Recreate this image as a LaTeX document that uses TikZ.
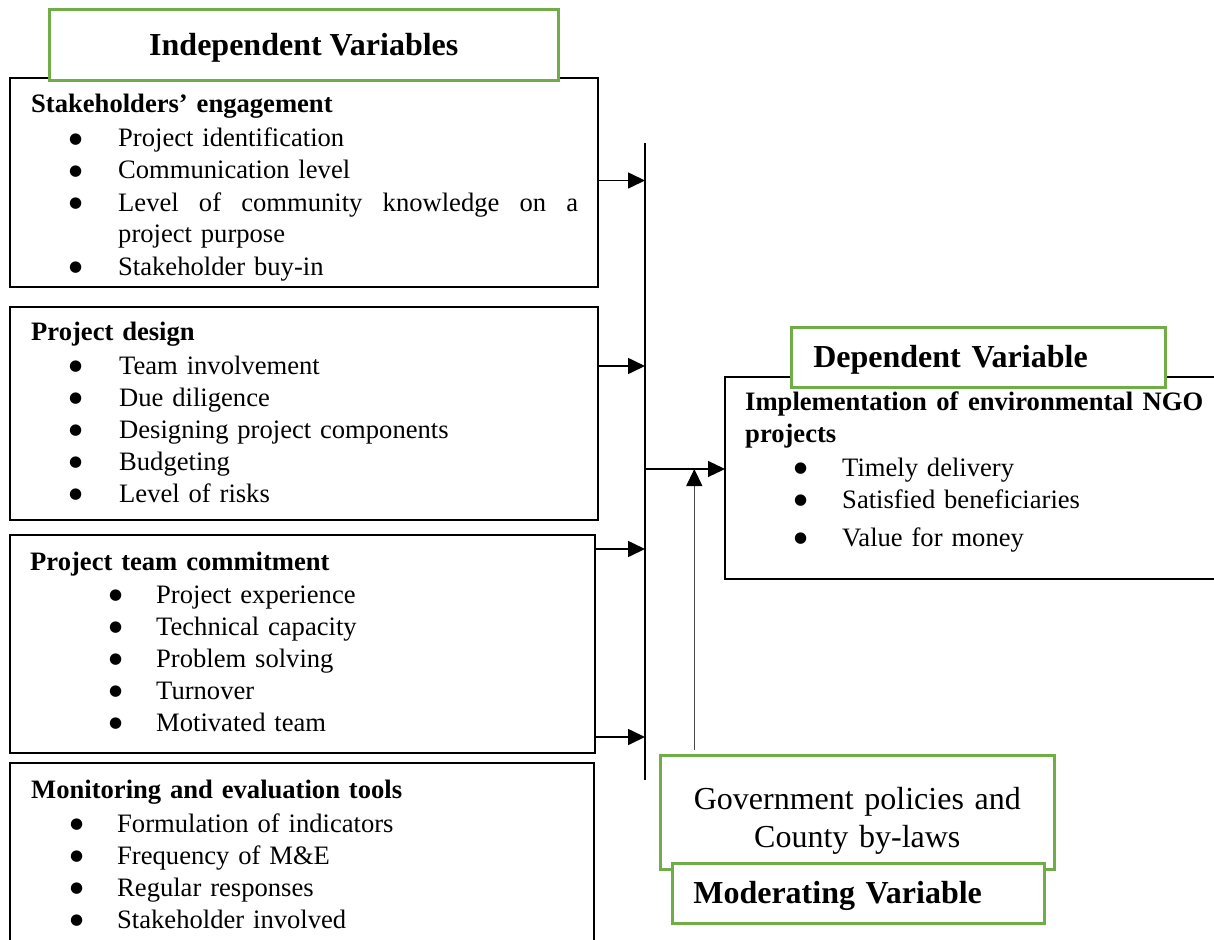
\documentclass[tikz,border=0pt]{standalone}
\usepackage{fontspec}
\setmainfont{Liberation Serif}
\newfontfamily\dotfont{DejaVu Sans}
\usetikzlibrary{arrows.meta, positioning}
\definecolor{boxgreen}{RGB}{112,173,71}
\newlength\bulin
\newlength\bulgap
\newcommand{\bigdot}{\raisebox{3.5pt}{\dotfont\fontsize{15}{15}\selectfont ●}}
\newcommand{\itm}[1]{\hspace*{\bulin}\makebox[\bulgap][l]{\bigdot}#1}

\begin{document}
\begin{tikzpicture}[
    x = 1pt, y = -1pt,
    > = {Triangle[length=17pt, width=16pt]},
    every node/.style = {font=\fontsize{26.6}{32}\selectfont},
    varbox/.style = {draw, line width=1.6pt, anchor=north west, inner sep=0pt, outer sep=0pt},
    vartext/.style = {anchor=base west, inner sep=0pt, text width=560pt, align=left},
    head/.style = {draw=boxgreen, line width=2.6pt, fill=white, inner sep=0pt, anchor=north west,
                   font=\fontsize{32}{38}\selectfont\bfseries, text height=21pt, text depth=0pt},
    link/.style = {->, line width=1.6pt}
]
\useasboundingbox (0,0) rectangle (1214,939);

% Boxes
\node[varbox, minimum width=588pt, minimum height=209pt] (stake)   at (10,78)  {};
\node[varbox, minimum width=588pt, minimum height=213pt] (design)  at (10,307) {};
\node[varbox, minimum width=585pt, minimum height=218pt] (team)    at (10,535) {};
\node[varbox, minimum width=584pt, minimum height=200pt] (monitor) at (10,763) {};
\node[varbox, minimum width=500pt, minimum height=202pt] (impl)    at (725,377) {};

% Box texts
\node[vartext] (stakeTxt) at (31,113) {\setlength\bulin{38pt}\setlength\bulgap{49pt}%
    \textbf{Stakeholders' engagement}\\[2pt]
    \itm{Project identification}\\
    \itm{Communication level}\\
    \itm{\makebox[460pt][l]{Level\hfill of\hfill community\hfill knowledge\hfill on\hfill a}}\\
    \hspace*{\dimexpr\bulin+\bulgap\relax}project purpose\\
    \itm{Stakeholder buy-in}};
\node[vartext] (designTxt) at (31,340) {\setlength\bulin{38pt}\setlength\bulgap{50pt}%
    \textbf{Project design}\\[2pt]
    \itm{Team involvement}\\
    \itm{Due diligence}\\
    \itm{Designing project components}\\
    \itm{Budgeting}\\
    \itm{Level of risks}};
\node[vartext] (teamTxt) at (30,570) {\setlength\bulin{79pt}\setlength\bulgap{47pt}%
    \textbf{Project team commitment}\\[1pt]
    \itm{Project experience}\\
    \itm{Technical capacity}\\
    \itm{Problem solving}\\
    \itm{Turnover}\\
    \itm{Motivated team}};
\node[vartext] (monitorTxt) at (31,798) {\setlength\bulin{39pt}\setlength\bulgap{47pt}%
    \textbf{Monitoring and evaluation tools}\\[2pt]
    \itm{Formulation of indicators}\\
    \itm{Frequency of M\&E}\\
    \itm{Regular responses}\\
    \itm{Stakeholder involved}};
\node[vartext, text width=460pt] (implTxt) at (745,410) {\setlength\bulin{49pt}\setlength\bulgap{48pt}%
    \makebox[458pt][l]{\bfseries Implementation\hfill of\hfill environmental\hfill NGO}\\
    \textbf{projects}\\[2pt]
    \itm{Timely delivery}\\
    \itm{Satisfied beneficiaries}\\[6pt]
    \itm{Value for money}};

% Headings
\node[head, minimum width=509pt, minimum height=71pt] (indep) at (48,8) {Independent Variables};
\node[head, minimum width=374pt, minimum height=60pt, text width=330pt, align=left] (dep) at (790,326) {Dependent Variable};
\node[head, minimum width=394pt, minimum height=114pt, text width=360pt, align=center,
      font=\fontsize{32}{38}\selectfont, text depth=27pt] (gov) at (659,754) {Government policies and\\County by-laws};
\node[head, minimum width=372pt, minimum height=60pt, text width=330pt, align=left] (moder) at (671,862) {Moderating Variable};

% Collecting bar
\coordinate (barTop) at (645,143);
\coordinate (barBot) at (645,780);
\draw[line width=1.8pt] (barTop) -- (barBot);

% Arrows into the bar
\coordinate (in1) at ([yshift=2pt]stake.east);
\coordinate (in2) at ([yshift=47.5pt]design.east);
\coordinate (in3) at ([yshift=95pt]team.east);
\coordinate (in4) at ([yshift=-93pt]team.east);
\draw[link] (in1) -- (in1 -| barTop);
\draw[link] (in2) -- (in2 -| barTop);
\draw[link] (in3) -- (in3 -| barTop);
\draw[link] (in4) -- (in4 -| barTop);

% Bar to dependent variable
\coordinate (out) at ([yshift=9pt]impl.west);
\draw[link, line width=1.2pt] (out -| barTop) -- (out);

% Moderating variable
\coordinate (modIn) at ([xshift=-163pt, yshift=4pt]gov.north);
\draw[-{Triangle[length=17pt, width=16pt, black]}, line width=1.2pt, black!70] (modIn) -- (modIn |- out);

\end{tikzpicture}
\end{document}
